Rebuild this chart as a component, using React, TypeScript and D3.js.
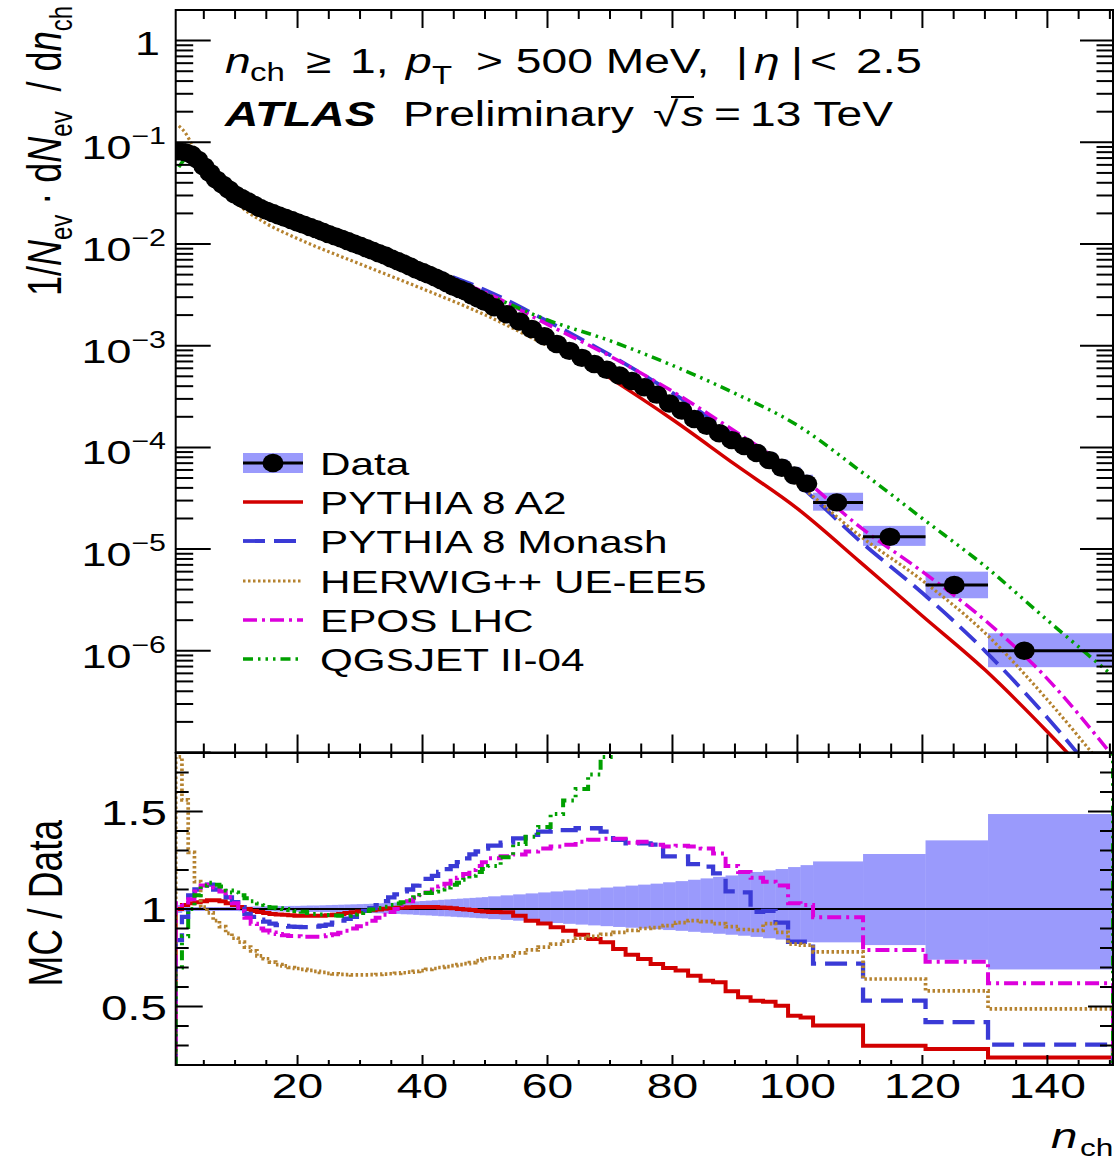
import React from 'react';
import * as d3 from 'd3';

// ---------------- data ----------------
const binEdges = [
  0.5, 1.5, 2.5, 3.5, 4.5, 5.5, 6.5, 7.5, 8.5, 9.5, 10.5, 11.5, 12.5, 13.5, 14.5, 15.5, 16.5, 17.5, 18.5, 19.5,
  20.5, 21.5, 22.5, 23.5, 24.5, 25.5, 26.5, 27.5, 28.5, 29.5, 30.5, 31.5, 32.5, 33.5, 34.5, 35.5, 36.5, 37.5, 38.5,
  39.5, 40.5, 41.5, 42.5, 43.5, 44.5, 45.5, 46.5, 47.5, 48.5, 49.5, 50.5,
  52.5, 54.5, 56.5, 58.5, 60.5, 62.5, 64.5, 66.5, 68.5, 70.5, 72.5, 74.5, 76.5, 78.5, 80.5, 82.5, 84.5, 86.5,
  88.5, 90.5, 92.5, 94.5, 96.5, 98.5, 100.5, 102.5,
  110.5, 120.5, 130.5, 150.5,
];

const dataValues = [
  0.0816, 0.08, 0.076, 0.0676, 0.058, 0.05, 0.043, 0.0384, 0.0343, 0.0306,
  0.0283, 0.0263, 0.0244, 0.0226, 0.0213, 0.0202, 0.0191, 0.0181, 0.0172, 0.0163,
  0.0155, 0.0147, 0.014, 0.0132, 0.0125, 0.0119, 0.0113, 0.0107, 0.0101, 0.0096,
  0.0091, 0.0086, 0.0081, 0.0077, 0.0072, 0.0068, 0.0064, 0.006, 0.0056, 0.0053,
  0.005, 0.0047, 0.0044, 0.0041, 0.0038, 0.0036, 0.0034, 0.0031, 0.0029, 0.0027,
  0.00239, 0.00204, 0.00173, 0.00146, 0.00124, 0.00104, 0.00089, 0.00076, 0.00066, 0.00058,
  0.00051, 0.00045, 0.00039, 0.00033, 0.00027, 0.00023, 0.00019, 0.000163, 0.000138, 0.000118,
  0.000103, 0.000088, 0.000075, 0.000063, 0.000053, 0.000044,
  2.88e-5, 1.32e-5, 4.44e-6, 1.0e-6,
];

const wideMarkerX = [106.3, 114.8, 125.1, 136.3];

const dataErrUp = [
  0.02, 0.012, 0.01, 0.01, 0.01, 0.01, 0.01, 0.01, 0.011, 0.011,
  0.012, 0.012, 0.013, 0.013, 0.014, 0.014, 0.015, 0.015, 0.016, 0.016,
  0.017, 0.018, 0.018, 0.019, 0.02, 0.021, 0.022, 0.023, 0.024, 0.025,
  0.026, 0.027, 0.029, 0.03, 0.032, 0.033, 0.035, 0.037, 0.039, 0.041,
  0.043, 0.045, 0.047, 0.049, 0.051, 0.053, 0.055, 0.057, 0.059, 0.061,
  0.065, 0.07, 0.075, 0.08, 0.085, 0.09, 0.095, 0.1, 0.105, 0.11,
  0.115, 0.12, 0.125, 0.13, 0.137, 0.143, 0.15, 0.157, 0.165, 0.172,
  0.18, 0.19, 0.198, 0.205, 0.215, 0.225,
  0.244, 0.282, 0.352, 0.487,
];

const dataErrDown = [
  0.02, 0.012, 0.01, 0.01, 0.01, 0.01, 0.01, 0.01, 0.01, 0.01,
  0.011, 0.011, 0.011, 0.012, 0.012, 0.012, 0.013, 0.013, 0.013, 0.014,
  0.014, 0.015, 0.015, 0.016, 0.016, 0.017, 0.017, 0.018, 0.019, 0.019,
  0.02, 0.021, 0.022, 0.023, 0.024, 0.025, 0.027, 0.028, 0.03, 0.032,
  0.033, 0.035, 0.037, 0.038, 0.04, 0.042, 0.043, 0.045, 0.047, 0.048,
  0.052, 0.056, 0.06, 0.064, 0.068, 0.072, 0.076, 0.08, 0.084, 0.088,
  0.092, 0.096, 0.1, 0.104, 0.108, 0.112, 0.117, 0.122, 0.127, 0.132,
  0.137, 0.143, 0.15, 0.157, 0.163, 0.17,
  0.171, 0.185, 0.26, 0.31,
];

const ratioA2 = [
  1.0, 1.02, 1.03, 1.035, 1.04, 1.045, 1.045, 1.04, 1.03, 1.02,
  1.01, 1.0, 0.99, 0.985, 0.98, 0.975, 0.972, 0.97, 0.968, 0.966,
  0.965, 0.965, 0.965, 0.966, 0.968, 0.971, 0.975, 0.979, 0.983, 0.987,
  0.99, 0.994, 0.998, 1.001, 1.004, 1.006, 1.008, 1.009, 1.01, 1.01,
  1.01, 1.01, 1.008, 1.006, 1.004, 1.0, 0.998, 0.995, 0.99, 0.987,
  0.985, 0.983, 0.966, 0.94, 0.926, 0.906, 0.889, 0.868, 0.846, 0.829,
  0.795, 0.766, 0.744, 0.718, 0.697, 0.684, 0.658, 0.632, 0.624, 0.578,
  0.547, 0.53, 0.524, 0.504, 0.453, 0.444,
  0.402, 0.299, 0.282, 0.239,
];

const ratioMonash = [
  0.84, 0.96, 1.07, 1.1, 1.12, 1.125, 1.1, 1.085, 1.06, 1.035,
  1.01, 0.975, 0.96, 0.945, 0.935, 0.925, 0.918, 0.913, 0.91, 0.908,
  0.907, 0.907, 0.91, 0.914, 0.92, 0.93, 0.94, 0.95, 0.96, 0.975,
  0.99, 1.005, 1.02, 1.04, 1.06, 1.075, 1.09, 1.1, 1.12, 1.14,
  1.155, 1.17, 1.19, 1.205, 1.22, 1.24, 1.26, 1.28, 1.295, 1.31,
  1.325, 1.34, 1.362, 1.38, 1.397, 1.405, 1.405, 1.414, 1.414, 1.397,
  1.354, 1.337, 1.337, 1.33, 1.27, 1.27, 1.23, 1.217, 1.183, 1.09,
  1.085, 0.986, 0.99, 0.93, 0.832, 0.832,
  0.72, 0.53, 0.42, 0.305,
];

const ratioHerwig = [
  1.78, 1.56, 1.29, 1.14, 1.01, 0.98, 0.94, 0.91, 0.875, 0.85,
  0.83, 0.805, 0.785, 0.76, 0.745, 0.728, 0.715, 0.708, 0.7, 0.695,
  0.69, 0.685, 0.68, 0.675, 0.67, 0.667, 0.665, 0.663, 0.662, 0.662,
  0.662, 0.663, 0.664, 0.666, 0.668, 0.67, 0.673, 0.676, 0.68, 0.684,
  0.69, 0.695, 0.7, 0.705, 0.71, 0.715, 0.72, 0.725, 0.735, 0.745,
  0.75, 0.76, 0.775, 0.79, 0.805, 0.82, 0.835, 0.85, 0.86, 0.87,
  0.88, 0.89, 0.9, 0.905, 0.915, 0.93, 0.94, 0.935, 0.925, 0.91,
  0.895, 0.89, 0.925, 0.88, 0.82, 0.815,
  0.78, 0.641, 0.58, 0.488,
];

const ratioEpos = [
  1.03, 1.02, 1.05, 1.09, 1.12, 1.125, 1.11, 1.09, 1.06, 1.03,
  0.99, 0.955, 0.925, 0.9, 0.89, 0.88, 0.872, 0.866, 0.862, 0.86,
  0.858, 0.858, 0.858, 0.86, 0.865, 0.87, 0.878, 0.888, 0.9, 0.912,
  0.925, 0.94, 0.955, 0.97, 0.985, 1.0, 1.02, 1.04, 1.055, 1.07,
  1.085, 1.1, 1.115, 1.13, 1.145, 1.16, 1.18, 1.2, 1.22, 1.24,
  1.26, 1.27, 1.28, 1.295, 1.31, 1.32, 1.33, 1.345, 1.355, 1.36,
  1.36, 1.34, 1.345, 1.33, 1.32, 1.325, 1.32, 1.31, 1.285, 1.22,
  1.19, 1.16, 1.14, 1.12, 1.03, 1.02,
  0.958, 0.79, 0.73, 0.619,
];

const ratioQgsjet = [
  0.7, 0.86, 1.0, 1.07, 1.12, 1.135, 1.125, 1.115, 1.095, 1.085,
  1.07, 1.055, 1.04, 1.028, 1.02, 1.008, 1.004, 1.0, 0.995, 0.99,
  0.986, 0.98, 0.975, 0.972, 0.969, 0.967, 0.966, 0.966, 0.972, 0.98,
  0.99, 0.998, 1.005, 1.012, 1.02, 1.028, 1.035, 1.045, 1.06, 1.072,
  1.082, 1.09, 1.1, 1.11, 1.125, 1.135, 1.15, 1.17, 1.19, 1.205,
  1.22, 1.265, 1.333, 1.37, 1.42, 1.487, 1.556, 1.615, 1.69, 1.78,
  2.0, 2.1, 2.2, 2.3, 2.4, 2.5, 2.6, 2.7, 2.8, 2.9,
  2.95, 3.0, 3.1, 3.1, 3.2, 3.3,
  3.5, 3.8, 4.5, 5.5,
];

// MC predictions in the upper panel (read at these n_ch values)
const mcX = [1, 2, 3, 4, 6, 8, 10, 15, 20, 30, 40, 50, 60, 70, 80, 90, 100, 110, 120, 130, 140, 150];
const mcA2 = [0.0816, 0.0816, 0.0783, 0.07, 0.0523, 0.04, 0.0312, 0.0209, 0.0158, 0.0095, 0.00535, 0.00266,
  0.00115, 0.00048, 0.000188, 6.8e-5, 2.5e-5, 7.5e-6, 2.2e-6, 6.5e-7, 1.6e-7, 3.5e-8];
const mcMonash = [0.0685, 0.0768, 0.0813, 0.0744, 0.0563, 0.0417, 0.0317, 0.0199, 0.0148, 0.00936, 0.00604,
  0.00354, 0.00174, 0.00081, 0.000343, 0.000129, 4.4e-5, 1.2e-5, 3.7e-6, 1.0e-6, 2.2e-7, 4e-8];
const mcHerwig = [0.145, 0.125, 0.098, 0.077, 0.049, 0.035, 0.026, 0.0159, 0.0113, 0.00636, 0.00363, 0.00201,
  0.001, 0.000505, 0.000247, 0.000107, 4.35e-5, 1.35e-5, 4.9e-6, 1.5e-6, 3.3e-7, 6e-8];
const mcEpos = [0.084, 0.0816, 0.0798, 0.0737, 0.0563, 0.0419, 0.0315, 0.019, 0.014, 0.00876, 0.00567, 0.00335,
  0.00162, 0.00079, 0.000356, 0.000144, 5.5e-5, 1.65e-5, 6.0e-6, 2.0e-6, 5.3e-7, 1.0e-7];
const mcQgsjet = [0.057, 0.069, 0.076, 0.0723, 0.0568, 0.043, 0.0335, 0.0219, 0.0163, 0.0094, 0.0057, 0.00325,
  0.00179, 0.00112, 0.00064, 0.00034, 0.000165, 5.9e-5, 2.0e-5, 6.8e-6, 2.0e-6, 6.0e-7];

const xTickLabels = [20, 40, 60, 80, 100, 120, 140];
const ratioTickLabels = [0.5, 1, 1.5];
const logLabelExps = [0, -1, -2, -3, -4, -5, -6];
const legendLabels = ['Data', 'PYTHIA 8 A2', 'PYTHIA 8 Monash', 'HERWIG++ UE-EE5', 'EPOS LHC', 'QGSJET II-04'];

// ---------------- layout ----------------
const W = 1114;
const H = 1161;
const X0 = 175.7;
const X1 = 1113;
const UY0 = 10;
const UY1 = 752.5;
const LY0 = 753;
const LY1 = 1065;
const SX = 1.32;
const FONT = '"Liberation Sans", Arial, Helvetica, sans-serif';
const BAND = '#9a9afc';
const MRX = 10.5;
const MRY = 9.2;

const x = d3.scaleLinear().domain([0.5, 150.5]).range([X0, X1]);
const yU = d3.scaleLog().domain([1e-7, 2]).range([UY1, UY0]);
const yL = d3.scaleLinear().domain([0.2, 1.8]).range([LY1, LY0]);

const series = [
  { name: legendLabels[1], color: '#d20000', dash: undefined as string | undefined, width: 3.5, ratio: ratioA2, mc: mcA2 },
  { name: legendLabels[2], color: '#3a3ad6', dash: '22,9', width: 3.8, ratio: ratioMonash, mc: mcMonash },
  { name: legendLabels[3], color: '#b5822f', dash: '2.5,2.5', width: 3.2, ratio: ratioHerwig, mc: mcHerwig },
  { name: legendLabels[4], color: '#dc00dc', dash: '14,5,3,5', width: 3.5, ratio: ratioEpos, mc: mcEpos },
  { name: legendLabels[5], color: '#00a000', dash: '10,5,2.5,5,2.5,5,2.5,5', width: 3.5, ratio: ratioQgsjet, mc: mcQgsjet },
];

const ST = ({ x: tx, y: ty, size, anchor = 'start', italic = false, bold = false, rot = 0, children }: any) => (
  <text
    transform={`translate(${tx},${ty}) scale(${SX},1)${rot ? ` rotate(${rot})` : ''}`}
    fontSize={size}
    textAnchor={anchor}
    fontStyle={italic ? 'italic' : 'normal'}
    fontWeight={bold ? 'bold' : 'normal'}
    fontFamily={FONT}
    fill="#000"
    style={{ whiteSpace: 'pre' }}
  >
    {children}
  </text>
);

function ratioPath(r: number[]) {
  const pts: [number, number][] = [[binEdges[0], 0]];
  r.forEach((v, i) => {
    pts.push([binEdges[i], v]);
    pts.push([binEdges[i + 1], v]);
  });
  pts.push([binEdges[binEdges.length - 1], 0]);
  return d3.line<[number, number]>().x((d) => x(d[0])).y((d) => yL(d[1]))(pts) || '';
}

function mcPath(vals: number[]) {
  const pts: [number, number][] = mcX.map((n, i) => [n, vals[i]]);
  return d3
    .line<[number, number]>()
    .x((d) => x(d[0]))
    .y((d) => yU(d[1]))
    .curve(d3.curveMonotoneX)(pts) || '';
}

export default function App() {
  const bins = dataValues.map((v, i) => {
    const lo = binEdges[i];
    const hi = binEdges[i + 1];
    const cx = i >= dataValues.length - 4 ? wideMarkerX[i - (dataValues.length - 4)] : (lo + hi) / 2;
    return { v, lo, hi, cx, up: dataErrUp[i], dn: dataErrDown[i] };
  });

  const minorX = d3.range(5, 151, 5).filter((t) => t % 20 !== 0);
  const majorX = d3.range(20, 151, 20);

  const logMajors = [1e-7, 1e-6, 1e-5, 1e-4, 1e-3, 1e-2, 1e-1, 1];
  const logMinors: number[] = [];
  for (let e = -7; e <= 0; e++) {
    for (let k = 2; k <= 9; k++) {
      const v = k * Math.pow(10, e);
      if (v < 2) logMinors.push(v);
    }
  }
  const ratioMinor = d3.range(0.3, 1.8, 0.1).filter((v) => Math.abs(v * 2 - Math.round(v * 2)) > 1e-6);

  const tickStroke = { stroke: '#000', strokeWidth: 2 };

  return (
    <div style={{ position: 'absolute', left: 0, top: 0 }}>
      <svg width={W} height={H} viewBox={`0 0 ${W} ${H}`} style={{ display: 'block', background: '#fff' }}>
        <defs>
          <clipPath id="clipU">
            <rect x={X0} y={UY0} width={X1 - X0} height={UY1 - UY0} />
          </clipPath>
          <clipPath id="clipL">
            <rect x={X0} y={LY0} width={X1 - X0} height={LY1 - LY0} />
          </clipPath>
        </defs>
        <rect x={0} y={0} width={W} height={H} fill="#fff" />

        {/* ---------- upper panel ---------- */}
        <g clipPath="url(#clipU)">
          {bins.map((b, i) => (
            <rect
              key={'ub' + i}
              x={x(b.lo)}
              width={x(b.hi) - x(b.lo)}
              y={yU(b.v * (1 + b.up))}
              height={yU(b.v * (1 - b.dn)) - yU(b.v * (1 + b.up))}
              fill={BAND}
            />
          ))}
          {series.map((s) => (
            <path key={'mc' + s.name} d={mcPath(s.mc)} fill="none" stroke={s.color}
              strokeWidth={s.width} strokeDasharray={s.dash} />
          ))}
          {bins.map((b, i) => (
            <line key={'eb' + i} x1={x(b.lo)} x2={x(b.hi)} y1={yU(b.v)} y2={yU(b.v)} stroke="#000" strokeWidth={3} />
          ))}
          {bins.map((b, i) => (
            <ellipse key={'pt' + i} cx={x(b.cx)} cy={yU(b.v)} rx={MRX} ry={MRY} fill="#000" />
          ))}
        </g>

        {/* upper ticks */}
        {majorX.map((t) => (
          <g key={'umx' + t}>
            <line x1={x(t)} x2={x(t)} y1={UY0} y2={UY0 + 18} {...tickStroke} />
            <line x1={x(t)} x2={x(t)} y1={UY1} y2={UY1 - 18} {...tickStroke} />
          </g>
        ))}
        {minorX.map((t) => (
          <g key={'umnx' + t}>
            <line x1={x(t)} x2={x(t)} y1={UY0} y2={UY0 + 9} {...tickStroke} />
            <line x1={x(t)} x2={x(t)} y1={UY1} y2={UY1 - 9} {...tickStroke} />
          </g>
        ))}
        {logMajors.map((v) => (
          <g key={'uly' + v}>
            <line x1={X0} x2={X0 + 35} y1={yU(v)} y2={yU(v)} {...tickStroke} />
            <line x1={X1} x2={X1 - 33} y1={yU(v)} y2={yU(v)} {...tickStroke} />
          </g>
        ))}
        {logMinors.map((v) => (
          <g key={'ulmy' + v}>
            <line x1={X0} x2={X0 + 17.5} y1={yU(v)} y2={yU(v)} {...tickStroke} />
            <line x1={X1} x2={X1 - 16.5} y1={yU(v)} y2={yU(v)} {...tickStroke} />
          </g>
        ))}
        <rect x={X0} y={UY0} width={X1 - X0} height={UY1 - UY0} fill="none" stroke="#000" strokeWidth={2} />

        {/* upper y labels */}
        {logLabelExps.map((e) =>
          e === 0 ? (
            <ST key={'ull' + e} x={160} y={yU(1) + 14} size={34} anchor="end">1</ST>
          ) : (
            <ST key={'ull' + e} x={166} y={yU(Math.pow(10, e)) + 17} size={34} anchor="end">
              <tspan>10</tspan>
              <tspan dy={-15} fontSize={23}>{'\u2212' + Math.abs(e)}</tspan>
            </ST>
          )
        )}

        {/* upper y title */}
        <ST x={61} y={6} size={36} anchor="end" rot={-90}>
          <tspan>1/</tspan>
          <tspan fontStyle="italic">N</tspan>
          <tspan dy={8} fontSize={24}>ev</tspan>
          <tspan dy={-8}>{' \u00b7 d'}</tspan>
          <tspan fontStyle="italic">N</tspan>
          <tspan dy={8} fontSize={24}>ev</tspan>
          <tspan dy={-8}>{'  / d'}</tspan>
          <tspan fontStyle="italic">n</tspan>
          <tspan dy={8} fontSize={24}>ch</tspan>
        </ST>

        {/* header */}
        <ST x={225} y={73} size={35} italic>n</ST>
        <ST x={250} y={81} size={25}>ch</ST>
        <ST x={306} y={73} size={35}>{'\u2265'}</ST>
        <ST x={350} y={73} size={35}>1,</ST>
        <ST x={406} y={73} size={35} italic>p</ST>
        <ST x={432} y={84} size={25}>T</ST>
        <ST x={476} y={73} size={35}>{'> 500 MeV,'}</ST>
        <ST x={736} y={73} size={35}>|</ST>
        <ST x={754} y={73} size={35} italic>{'\u03b7'}</ST>
        <ST x={791} y={73} size={35}>|</ST>
        <ST x={810} y={73} size={35}>{'<'}</ST>
        <ST x={856} y={73} size={36}>2.5</ST>

        <ST x={225} y={126} size={35} bold italic>ATLAS</ST>
        <ST x={403} y={126} size={35}>Preliminary</ST>
        <line x1={671} x2={694} y1={97} y2={97} stroke="#000" strokeWidth={2} />
        <ST x={653} y={126} size={35}>
          <tspan>{'\u221a'}</tspan>
          <tspan fontStyle="italic" dx={2}>s</tspan>
        </ST>
        <ST x={714} y={126} size={35}>=</ST>
        <ST x={750} y={126} size={35}>13 TeV</ST>

        {/* legend */}
        {(() => {
          const rows = [463, 502, 541, 581, 620, 659];
          const lx0 = 243;
          const lx1 = 303;
          return (
            <g>
              <rect x={lx0} y={rows[0] - 10} width={lx1 - lx0} height={20} fill={BAND} />
              <line x1={lx0} x2={lx1} y1={rows[0]} y2={rows[0]} stroke="#000" strokeWidth={3} />
              <ellipse cx={(lx0 + lx1) / 2} cy={rows[0]} rx={MRX} ry={MRY} fill="#000" />
              <ST x={320} y={rows[0] + 12} size={32}>{legendLabels[0]}</ST>
              {series.map((s, i) => (
                <g key={'lg' + s.name}>
                  <line x1={lx0} x2={lx1} y1={rows[i + 1]} y2={rows[i + 1]} stroke={s.color}
                    strokeWidth={s.width} strokeDasharray={s.dash} />
                  <ST x={320} y={rows[i + 1] + 12} size={32}>{s.name}</ST>
                </g>
              ))}
            </g>
          );
        })()}

        {/* ---------- lower panel ---------- */}
        <g clipPath="url(#clipL)">
          {bins.map((b, i) => (
            <rect
              key={'lb' + i}
              x={x(b.lo)}
              width={x(b.hi) - x(b.lo) + 0.3}
              y={yL(1 + b.up)}
              height={yL(1 - b.dn) - yL(1 + b.up)}
              fill={BAND}
            />
          ))}
          <line x1={X0} x2={X1} y1={yL(1)} y2={yL(1)} stroke="#000" strokeWidth={1.8} />
          {series.map((s) => (
            <path key={'r' + s.name} d={ratioPath(s.ratio)} fill="none" stroke={s.color}
              strokeWidth={s.width + 0.5} strokeDasharray={s.dash} />
          ))}
        </g>

        {majorX.map((t) => (
          <g key={'lmx' + t}>
            <line x1={x(t)} x2={x(t)} y1={LY0} y2={LY0 + 10} {...tickStroke} />
            <line x1={x(t)} x2={x(t)} y1={LY1} y2={LY1 - 10} {...tickStroke} />
          </g>
        ))}
        {minorX.map((t) => (
          <g key={'lmnx' + t}>
            <line x1={x(t)} x2={x(t)} y1={LY0} y2={LY0 + 5} {...tickStroke} />
            <line x1={x(t)} x2={x(t)} y1={LY1} y2={LY1 - 5} {...tickStroke} />
          </g>
        ))}
        {ratioTickLabels.map((v) => (
          <g key={'lry' + v}>
            <line x1={X0} x2={X0 + 27} y1={yL(v)} y2={yL(v)} {...tickStroke} />
            <line x1={X1} x2={X1 - 25} y1={yL(v)} y2={yL(v)} {...tickStroke} />
          </g>
        ))}
        {ratioMinor.map((v) => (
          <g key={'lrmy' + v.toFixed(2)}>
            <line x1={X0} x2={X0 + 13} y1={yL(v)} y2={yL(v)} {...tickStroke} />
            <line x1={X1} x2={X1 - 13} y1={yL(v)} y2={yL(v)} {...tickStroke} />
          </g>
        ))}
        <rect x={X0} y={LY0} width={X1 - X0} height={LY1 - LY0} fill="none" stroke="#000" strokeWidth={2} />

        {ratioTickLabels.map((v) => (
          <ST key={'lrl' + v} x={167} y={yL(v) + 13} size={36} anchor="end">{String(v)}</ST>
        ))}
        <ST x={62} y={820} size={37} anchor="end" rot={-90}>MC / Data</ST>

        {xTickLabels.map((t) => (
          <ST key={'xl' + t} x={x(t)} y={1098} size={35} anchor="middle">{String(t)}</ST>
        ))}
        <ST x={1051} y={1148} size={36} italic>n</ST>
        <ST x={1080} y={1156} size={24}>ch</ST>
      </svg>
    </div>
  );
}
